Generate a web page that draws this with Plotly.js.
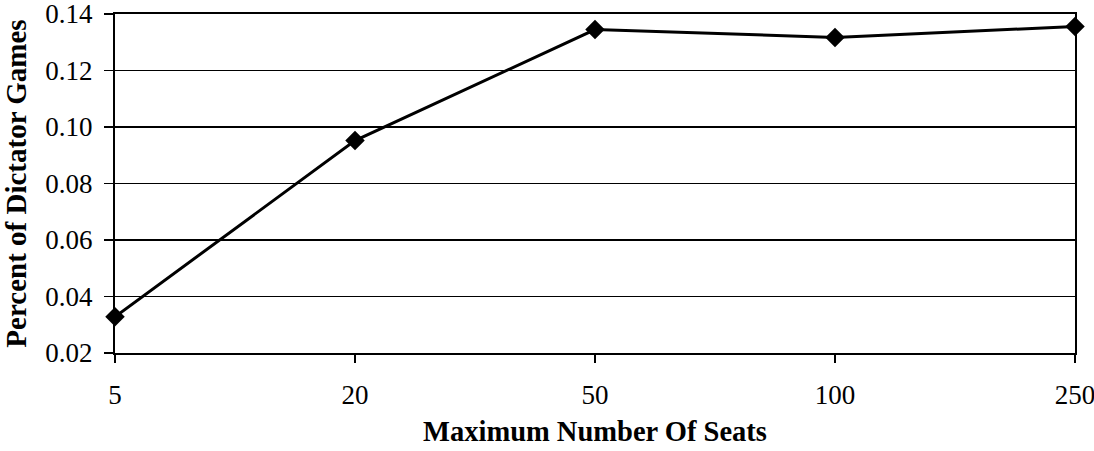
<!DOCTYPE html>
<html>
<head>
<meta charset="utf-8">
<script src="https://cdn.plot.ly/plotly-3.0.1.min.js"></script>
<style>html,body{margin:0;padding:0;background:#fff;}#chart{width:1094px;height:451px;}</style>
</head>
<body>
<div id="chart"></div>
<script>
var categories = ["5", "20", "50", "100", "250"];
var values = [0.0328, 0.0952, 0.1345, 0.1317, 0.1356];
var yTicks = [0.02, 0.04, 0.06, 0.08, 0.10, 0.12, 0.14];
var yTickLabels = ["0.02", "0.04", "0.06", "0.08", "0.10", "0.12", "0.14"];

var fam = "Liberation Serif, Times New Roman, serif";

var trace = {
  x: categories,
  y: values,
  type: "scatter",
  mode: "lines+markers",
  line: {color: "#000", width: 3},
  marker: {symbol: "diamond", size: 15, color: "#000"},
  cliponaxis: false,
  hoverinfo: "none"
};

var layout = {
  width: 1094,
  height: 451,
  margin: {l: 115, r: 19, t: 14, b: 98},
  paper_bgcolor: "#fff",
  plot_bgcolor: "#fff",
  showlegend: false,
  font: {family: fam, color: "#000"},
  xaxis: {
    type: "category",
    range: [0, 4],
    showgrid: false,
    zeroline: false,
    showline: true,
    linecolor: "#000",
    linewidth: 2,
    mirror: true,
    ticks: "outside",
    ticklen: 8,
    tickwidth: 1.5,
    tickcolor: "#000",
    tickfont: {family: fam, size: 27, color: "#000"},
    ticklabelstandoff: 9,
    ticklabeloverflow: "allow",
    title: {text: "<b>Maximum Number Of Seats</b>", font: {family: fam, size: 28.5, color: "#000"}, standoff: 12}
  },
  yaxis: {
    range: [0.02, 0.14],
    tickvals: yTicks,
    ticktext: yTickLabels,
    showgrid: true,
    gridcolor: "#000",
    gridwidth: 1.5,
    zeroline: false,
    showline: true,
    linecolor: "#000",
    linewidth: 2,
    mirror: true,
    ticks: "outside",
    ticklen: 9,
    tickwidth: 1.5,
    tickcolor: "#000",
    tickfont: {family: fam, size: 27, color: "#000"},
    ticklabelstandoff: 6,
    ticklabeloverflow: "allow",
    title: {text: "<b>Percent of Dictator Games</b>", font: {family: fam, size: 29, color: "#000"}, standoff: 12}
  }
};

Plotly.newPlot("chart", [trace], layout, {displayModeBar: false, staticPlot: true});
</script>
</body>
</html>
